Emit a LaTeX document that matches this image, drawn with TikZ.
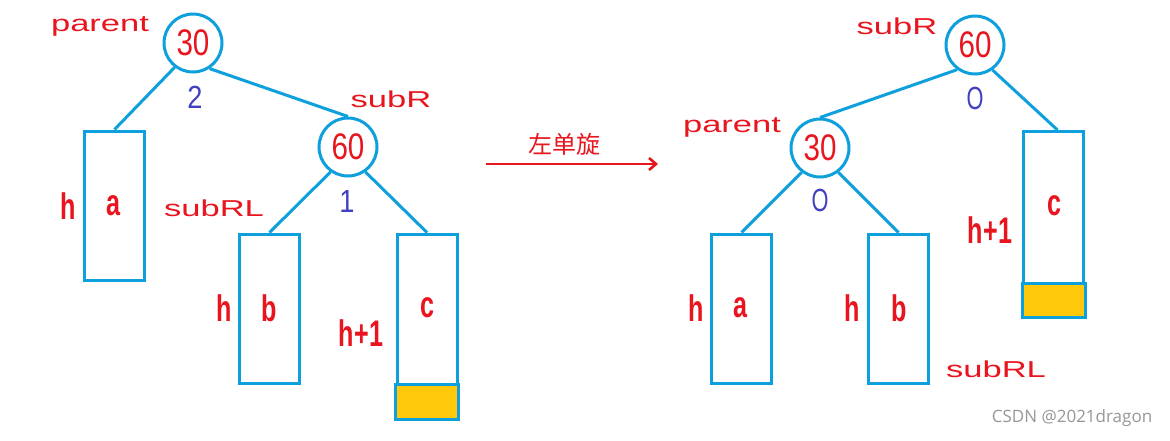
\documentclass[tikz,border=0pt]{standalone}
\usepackage{fontspec}
\setmainfont{Liberation Sans}
\newfontfamily\numfont[FakeStretch=0.8]{Liberation Sans}
\newfontfamily\letfont[FakeStretch=0.68]{Liberation Sans}
\newfontfamily\balfont[FakeStretch=0.85]{Liberation Sans}
\newfontfamily\lblfont[FakeStretch=1.5]{Liberation Sans}
\newfontfamily\cjkfont{Noto Sans CJK SC}
\newfontfamily\wmfont{Open Sans}
\usetikzlibrary{arrows.meta}
\definecolor{treeblue}{RGB}{14,160,220}
\definecolor{lblred}{RGB}{232,20,30}
\definecolor{balblue}{RGB}{64,64,192}
\definecolor{fillyel}{RGB}{255,200,10}
\definecolor{wmgrey}{RGB}{150,150,150}
\tikzset{
  circ/.style={circle, draw=treeblue, line width=3pt, fill=white, minimum size=58pt, inner sep=0pt,
    text=lblred, font=\numfont\fontsize{37}{37}\selectfont},
  box/.style={rectangle, draw=treeblue, line width=3pt, minimum width=60pt, minimum height=149pt, inner sep=0pt},
  tallbox/.style={box, minimum height=184pt},
  edge/.style={draw=treeblue, line width=3pt},
  lbl/.style={text=lblred, inner sep=0pt, font=\lblfont\fontsize{23}{23}\selectfont},
  let/.style={text=lblred, inner sep=0pt, font=\letfont\bfseries\fontsize{37}{37}\selectfont},
  bal/.style={text=balblue, inner sep=0pt, font=\balfont\fontsize{32}{32}\selectfont},
  yel/.style={fill=fillyel, draw=treeblue, line width=3pt}
}
\begin{document}
\begin{tikzpicture}[x=1pt,y=-1pt]
\useasboundingbox (0,0) rectangle (1170,440);
% ---------- left tree ----------
\node[box] (la) at (114.5,205.5) {};
\node[box] (lb) at (269.5,308.5) {};
\node[tallbox] (lc) at (427,326) {};
\draw[yel] (lc.south west) rectangle ([yshift=35pt]lc.south east);
\node[circ] (lp) at (193,43) {30};
\node[circ] (lr) at (348,147) {60};
\draw[edge] (lp.-127) -- (la.north);
\draw[edge] (lp.-57) -- (lr.north);
\draw[edge] (lr.-125) -- (lb.north);
\draw[edge] (lr.-55) -- (lc.north);
\node[lbl] (lparent) at (100,26) {parent};
\node[bal] (lbal1) at (195,97) {2};
\node[lbl] (lsubr) at (391,99) {subR};
\node[bal] (lbal2) at (347,201) {1};
\node[let] (lha) at (68,206) {h};
\node[let] (lta) at (113,206) {a};
\node[lbl] (lsubrl) at (214,208) {subRL};
\node[let] (lhb) at (224,308) {h};
\node[let] (ltb) at (269,308) {b};
\node[let] (lhc) at (361,333) {h+1};
\node[let] (ltc) at (427,308) {c};
% ---------- arrow ----------
\coordinate (arS) at (486,164);
\coordinate (arE) at (658,164);
\draw[draw=lblred, line width=2.6pt, -{Straight Barb[length=7pt,width=12pt]}] (arS) -- (arE);
\node[text=lblred, inner sep=0pt, font=\cjkfont\fontsize{24}{24}\selectfont] (rot) at (564,144) {左单旋};
% ---------- right tree ----------
\node[box] (ra) at (741.5,308.5) {};
\node[box] (rb) at (898.5,308.5) {};
\node[tallbox] (rc) at (1053.5,223.5) {};
\draw[yel] (rc.south west) rectangle ([yshift=34pt]rc.south east);
\node[circ] (rr) at (975,45) {60};
\node[circ] (rp) at (820,148) {30};
\draw[edge] (rr.-126) -- (rp.north);
\draw[edge] (rr.-55) -- ([xshift=4pt]rc.north);
\draw[edge] (rp.-127) -- (ra.north);
\draw[edge] (rp.-53) -- (rb.north);
\node[lbl] (rsubr) at (897,26) {subR};
\node[bal, font=\letfont\fontsize{32}{32}\selectfont] (rbal1) at (975,98) {O};
\node[lbl] (rparent) at (732,127) {parent};
\node[bal, font=\letfont\fontsize{32}{32}\selectfont] (rbal2) at (820,200) {O};
\node[let] (rhc) at (990,230) {h+1};
\node[let] (rtc) at (1054,206) {c};
\node[let] (rha) at (696,308) {h};
\node[let] (rta) at (740,308) {a};
\node[let] (rhb) at (852,308) {h};
\node[let] (rtb) at (899,308) {b};
\node[lbl] (rsubrl) at (996,369) {subRL};
\node[text=wmgrey, inner sep=0pt, font=\wmfont\fontsize{17}{17}\selectfont] (wm) at (1072,418) {CSDN @2021dragon};
\end{tikzpicture}
\end{document}
